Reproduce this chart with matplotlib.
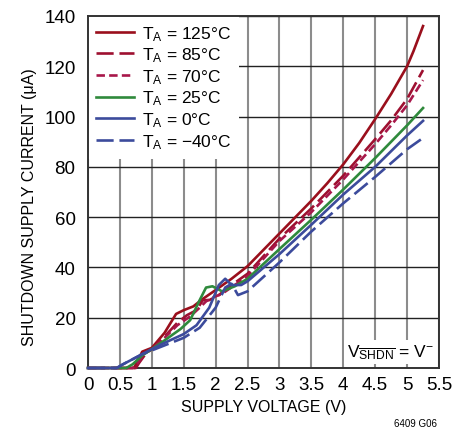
import matplotlib
matplotlib.use("Agg")
import matplotlib.pyplot as plt
from matplotlib import font_manager

# condensed face if available
_names = {f.name for f in font_manager.fontManager.ttflist}
FONT = "Liberation Sans Narrow" if "Liberation Sans Narrow" in _names else "Liberation Sans"
plt.rcParams.update({
    "font.family": [FONT, "DejaVu Sans"],
    "mathtext.fontset": "custom",
    "mathtext.rm": FONT,
    "mathtext.it": FONT,
    "mathtext.default": "regular",
})

# supply voltage (V) / shutdown current (uA) per temperature
v_125 = [0, 0.72, 0.78, 0.85, 1.0, 1.2, 1.38, 1.5, 1.65, 1.8, 2.0, 2.25, 2.5, 3.0, 3.5, 3.75, 4.0, 4.25, 4.5, 4.75, 5.0, 5.1, 5.25]
i_125 = [0, 0, 3, 6.5, 8, 14, 21.5, 23, 24.5, 27.5, 31, 35.5, 40.5, 53.5, 66.5, 73.5, 81, 89.5, 99, 109, 120, 126, 136]

v_85 = [0, 0.75, 0.8, 0.9, 1.0, 1.2, 1.4, 1.55, 1.7, 1.8, 1.9, 2.05, 2.25, 2.5, 3.0, 3.5, 4.0, 4.5, 4.75, 5.0, 5.25]
i_85 = [0, 0, 2, 5.5, 7.5, 12.5, 18, 21, 23, 27, 27, 29, 33, 37.5, 51.5, 63.5, 76.5, 91, 98.5, 107, 118.5]

v_70 = [0, 0.7, 0.78, 0.9, 1.0, 1.2, 1.4, 1.6, 1.75, 1.85, 1.95, 2.1, 2.3, 2.5, 3.0, 3.5, 4.0, 4.5, 4.75, 5.0, 5.25]
i_70 = [0, 0, 2, 6, 7.5, 12, 17, 20.5, 24, 26.5, 28, 29.5, 33, 36.5, 50.5, 62, 75, 89, 96.5, 104.5, 114.5]

v_25 = [0, 0.6, 0.7, 0.85, 1.0, 1.2, 1.45, 1.6, 1.75, 1.85, 1.95, 2.1, 2.3, 2.5, 3.0, 3.5, 4.0, 4.5, 5.0, 5.25]
i_25 = [0, 0, 1.5, 5, 7.5, 11, 15.5, 19, 27, 32, 32.5, 30.5, 32.5, 35.5, 47.3, 59, 71, 83.5, 96.5, 103.4]

v_0 = [0, 0.45, 0.55, 0.7, 0.85, 1.0, 1.2, 1.5, 1.7, 1.9, 2.05, 2.15, 2.25, 2.4, 2.5, 3.0, 3.5, 4.0, 4.5, 5.0, 5.25]
i_0 = [0, 0, 1.5, 3.5, 5.5, 7.5, 10, 13.5, 17, 24, 33, 35.5, 33, 33, 34.5, 45.3, 57, 69, 80, 92.5, 98.3]

v_m40 = [0, 0.45, 0.55, 0.7, 0.85, 1.0, 1.2, 1.5, 1.75, 2.0, 2.15, 2.25, 2.35, 2.5, 3.0, 3.5, 4.0, 4.5, 5.0, 5.25]
i_m40 = [0, 0, 1.5, 3.5, 5.5, 7, 9, 12, 16, 24, 32, 33.5, 29, 30.5, 42, 54.3, 65.5, 76, 87, 91.5]

labels = ["125°C", "85°C", "70°C", "25°C", "0°C", "−40°C"]
x_ticks = [0, 0.5, 1, 1.5, 2, 2.5, 3, 3.5, 4, 4.5, 5, 5.5]
y_ticks = [0, 20, 40, 60, 80, 100, 120, 140]

series = [
    (v_125, i_125, "#9a0f1c", "-"),
    (v_85, i_85, "#9e1030", (0, (6.5, 2.2))),
    (v_70, i_70, "#a8174a", (0, (3.2, 1.6))),
    (v_25, i_25, "#2f8a3c", "-"),
    (v_0, i_0, "#3c4b9c", "-"),
    (v_m40, i_m40, "#3c4b9c", (0, (6.5, 2.2))),
]

fig = plt.figure(figsize=(4.66, 4.35), dpi=100)
ax = fig.add_axes([88 / 466, 1 - 369 / 435, 351 / 466, 352 / 435])

for (v, i, c, ls), lab in zip(series, labels):
    ax.plot(v, i, color=c, ls=ls, lw=1.9, zorder=3, clip_on=False,
            label=r"$T_A$ = " + lab)

ax.set_xlim(0, 5.5)
ax.set_ylim(0, 140)
ax.set_xticks(x_ticks)
ax.set_xticklabels([f"{t:g}" for t in x_ticks])
ax.set_yticks(y_ticks)
ax.tick_params(length=0, labelsize=13.5)
ax.tick_params(axis="y", pad=9)
ax.tick_params(axis="x", pad=6)
ax.grid(axis="x", color="#8c8c8c", lw=1.5, zorder=1)
ax.grid(axis="y", color="#222222", lw=1.0, zorder=1)
ax.set_axisbelow(True)
for s in ax.spines.values():
    s.set_color("#333333")
    s.set_linewidth(1.4)

ax.set_xlabel("SUPPLY VOLTAGE (V)", fontsize=11.5, labelpad=4)
ax.set_ylabel("SHUTDOWN SUPPLY CURRENT (μA)", fontsize=11.5)
ax.yaxis.set_label_coords(-0.145, 0.46)

leg = ax.legend(loc="upper left", fontsize=12.5, frameon=True, fancybox=False,
                facecolor="white", edgecolor="none", framealpha=1,
                borderaxespad=0, borderpad=0.45, handlelength=2.2,
                handletextpad=0.45, labelspacing=0.17)
leg.set_zorder(2)

ax.text(0.985, 0.02, r"$V_{\overline{SHDN}}$ = V$^{-}$", transform=ax.transAxes,
        ha="right", va="bottom", fontsize=12.5, zorder=2,
        bbox=dict(boxstyle="square,pad=0.15", fc="white", ec="none"))

fig.text(437 / 466, 1 - 424 / 435, "6409 G06", ha="right", va="center", fontsize=7)

fig.savefig("out.png", dpi=100)
